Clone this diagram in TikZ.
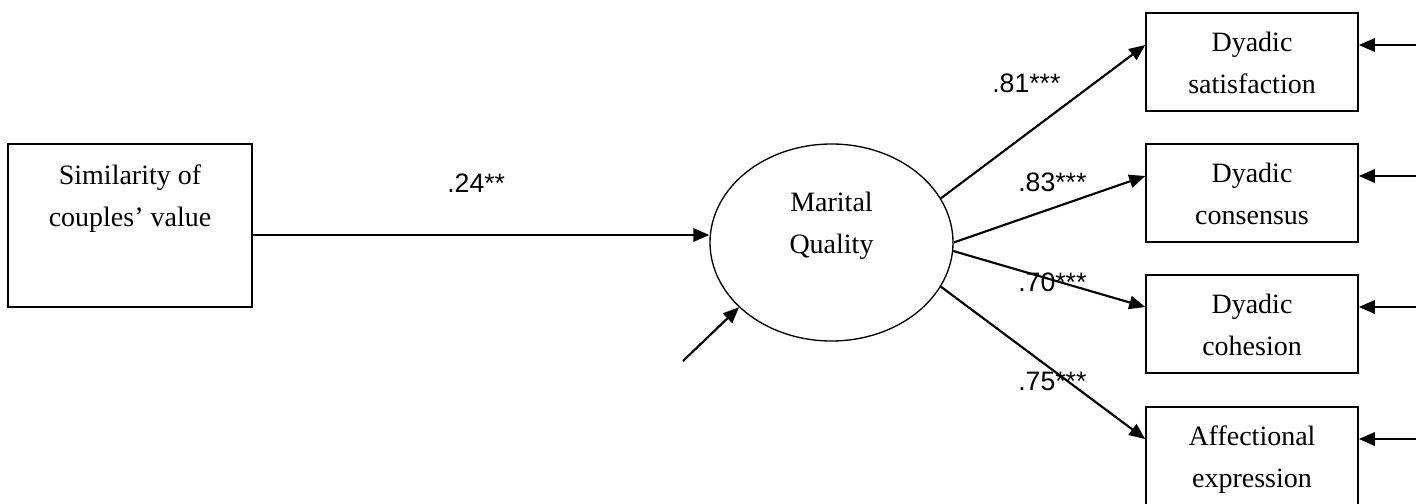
\documentclass[tikz,border=0pt]{standalone}
\usepackage{fontspec}
\setmainfont{Liberation Serif}
\newfontfamily\labelfont{Liberation Sans}
\usetikzlibrary{arrows.meta,shapes.geometric,calc}

\begin{document}
\begin{tikzpicture}[x=0.75pt,y=0.75pt,yscale=-1,xscale=1,
  boxtext/.style={align=center,font=\fontsize{21}{31.5}\selectfont,text height=47.25pt,text depth=0pt,inner sep=0pt},
  obsbox/.style={boxtext,draw,line width=1.2pt,rectangle,minimum width=159pt,minimum height=73.5pt},
  pathlab/.style={font=\labelfont\fontsize{20}{24}\selectfont,inner sep=0pt,anchor=base west},
  path/.style={line width=1.6pt,-{Triangle[length=12pt,width=10pt]}}]
\useasboundingbox (0,0) rectangle (1416,503);

%Shape: Rectangle [id:simil]
\node [draw,line width=1.2pt,rectangle,minimum width=183pt,minimum height=122.25pt,inner sep=0pt] (simil) at (130,225.5) {};
% Text Node
\node [boxtext] (simtext) at (130,195.4) {Similarity of\\couples’ value};

%Shape: Ellipse [id:qual]
\node [draw,line width=1pt,ellipse,minimum width=182.25pt,minimum height=147.75pt,inner sep=0pt] (qual) at (831.5,242.5) {};
% Text Node
\node [boxtext] (qualtext) at (831.5,222.4) {Marital\\Quality};

%Shape: Rectangle [id:d1]
\node [obsbox] (d1) at (1252,62) {Dyadic\\satisfaction};
%Shape: Rectangle [id:d2]
\node [obsbox] (d2) at (1252,193) {Dyadic\\consensus};
%Shape: Rectangle [id:d3]
\node [obsbox] (d3) at (1252,324) {Dyadic\\cohesion};
%Shape: Rectangle [id:d4]
\node [obsbox] (d4) at (1252,456) {Affectional\\expression};

% arrow ends on the boxes and free ends
\coordinate (s1) at ($(simil.east)+(0,9.5)$);
\coordinate (err) at (683,361);
\coordinate (d1in) at ($(d1.west)+(0,-17)$);
\coordinate (d2in) at ($(d2.west)+(0,-17)$);
\coordinate (d3in) at ($(d3.west)+(0,-17)$);
\coordinate (d4in) at ($(d4.west)+(0,-17)$);
\coordinate (d1err) at ($(d1.east)+(58,-17)$);
\coordinate (d2err) at ($(d2.east)+(58,-17)$);
\coordinate (d3err) at ($(d3.east)+(58,-17)$);
\coordinate (d4err) at ($(d4.east)+(58,-17)$);

%Straight Lines [id:simil-qual]
\draw [path] (s1) -- (s1 -| qual.west);
%Straight Lines [id:err-qual]
\draw [path] (err) -- (qual.215);
%Straight Lines [id:qual-d1]
\draw [path] (qual.22) -- (d1in);
%Straight Lines [id:qual-d2]
\draw [path] (qual.0) -- (d2in);
%Straight Lines [id:qual-d3]
\draw [path] (qual.-4) -- (d3in);
%Straight Lines [id:qual-d4]
\draw [path] (qual.-22) -- (d4in);
%Straight Lines [id:err-d1]
\draw [path] (d1err) -- ($(d1.east)+(0,-17)$);
%Straight Lines [id:err-d2]
\draw [path] (d2err) -- ($(d2.east)+(0,-17)$);
%Straight Lines [id:err-d3]
\draw [path] (d3err) -- ($(d3.east)+(0,-17)$);
%Straight Lines [id:err-d4]
\draw [path] (d4err) -- ($(d4.east)+(0,-17)$);

% Text Node
\node [pathlab] (lab24) at (447,192) {.24**};
% Text Node
\node [pathlab] (lab81) at (992,93) {.81***};
% Text Node
\node [pathlab] (lab83) at (1018,191) {.83***};
% Text Node
\node [pathlab] (lab70) at (1018,291) {.70***};
% Text Node
\node [pathlab] (lab75) at (1018,390) {.75***};
\end{tikzpicture}
\end{document}
